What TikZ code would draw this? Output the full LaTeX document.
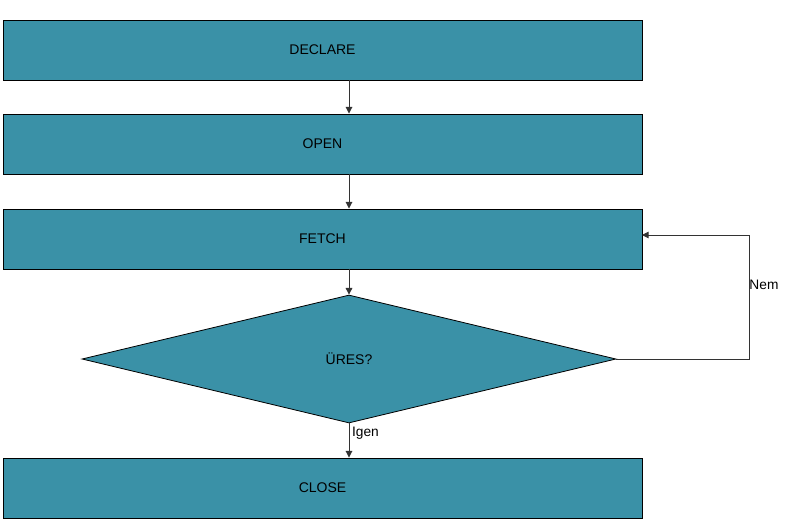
\documentclass[tikz,border=0pt]{standalone}
\usepackage{fontspec}
\setmainfont{Liberation Sans}
\usetikzlibrary{shapes.geometric,arrows.meta}
\definecolor{boxteal}{RGB}{58,145,167}
\tikzset{
  stepbox/.style={draw=black, line width=0.7pt, fill=boxteal, minimum width=479.25pt, minimum height=45pt, inner sep=0pt},
  decision/.style={draw=black, line width=0.6pt, fill=boxteal, diamond, aspect=4.17, minimum width=400.5pt, minimum height=96pt, inner sep=0pt},
  flow/.style={draw=black!80, line width=0.7pt, -{Triangle[length=5pt,width=5pt]}},
  lbl/.style={font=\fontsize{10.3}{12}\selectfont, inner sep=0pt}
}
\begin{document}
\begin{tikzpicture}[x=0.75pt, y=-0.75pt, font=\fontsize{10.5}{12}\selectfont]
  \useasboundingbox (0,0) rectangle (789,522);
  \node[stepbox] (declare) at (322.5,50) {DECLARE};
  \node[stepbox] (open) at (322.5,144) {OPEN};
  \node[stepbox] (fetch) at (322.5,239) {FETCH};
  \node[decision] (ures) at (349,359) {ÜRES?};
  \node[stepbox] (close) at (322.5,488) {CLOSE};
  % loop corner and entry point
  \coordinate (corner) at (749,359);
  \coordinate (back) at (642,235);
  \draw[flow] (declare.south -| 349,0) -- (open.north -| 349,0);
  \draw[flow] (open.south -| 349,0) -- (fetch.north -| 349,0);
  \draw[flow] (fetch.south -| 349,0) -- (ures.north);
  \draw[flow] (ures.south) -- (close.north -| ures.south)
    node[lbl, anchor=west, pos=0.28, xshift=2pt] {Igen};
  \draw[flow] (ures.east) -- (corner) |- (back)
    node[lbl, anchor=west, pos=0.3] {Nem};
\end{tikzpicture}
\end{document}
